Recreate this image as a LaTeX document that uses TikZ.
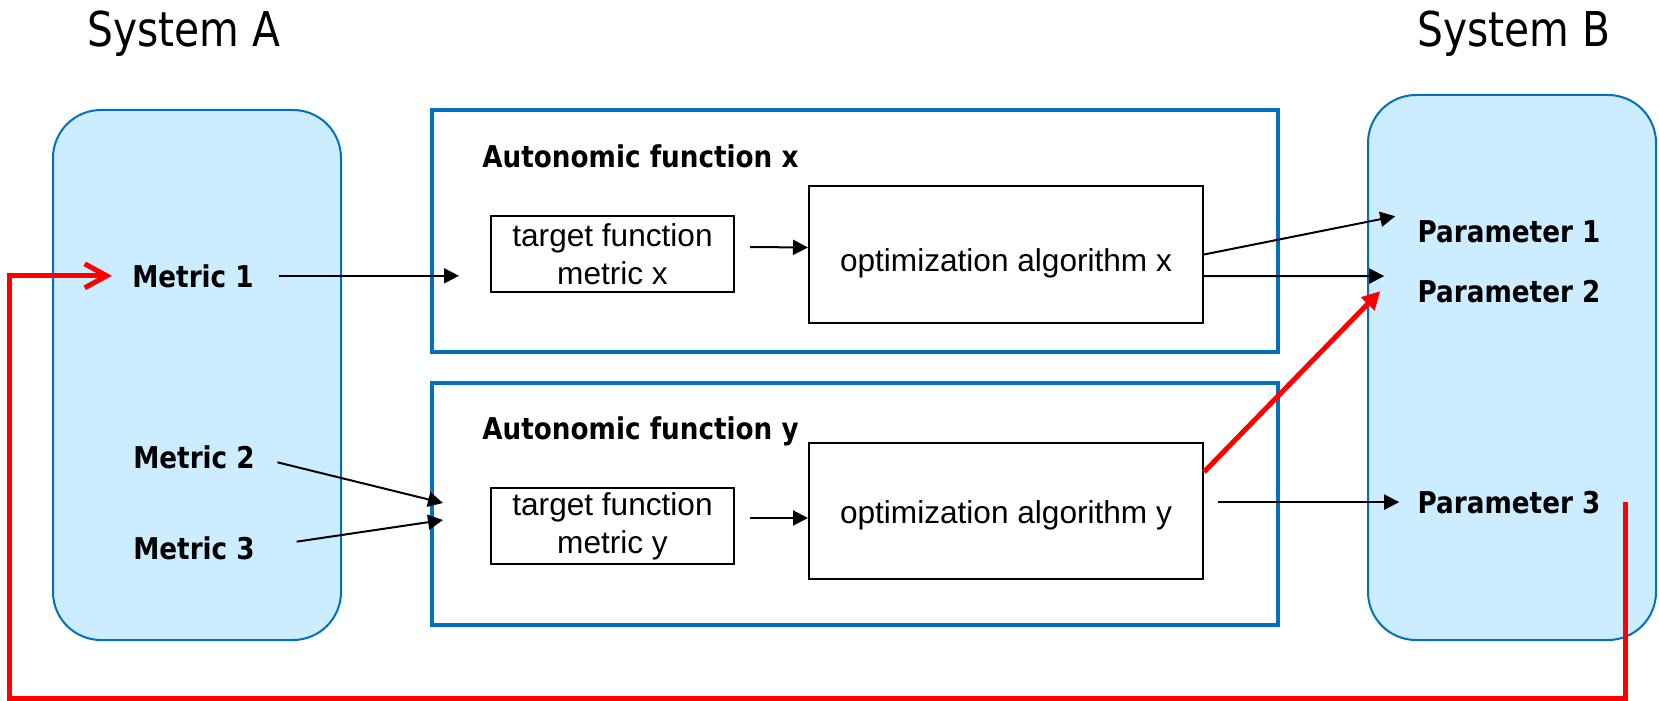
\documentclass[tikz,border=0pt]{standalone}
\usepackage{fontspec}
\setmainfont{Liberation Sans}
\newfontfamily\labelfont{DejaVu Sans}[FakeStretch=0.85]
\newfontfamily\itemfont{DejaVu Sans}[FakeStretch=0.875]
\usetikzlibrary{arrows.meta}
\definecolor{sysfill}{RGB}{204,236,255}
\definecolor{sysblue}{RGB}{0,112,192}
\tikzset{
x=0.5pt, y=-0.5pt, % one unit is one pixel of the original slide
sysbox/.style={draw=sysblue, line width=1pt, fill=sysfill, rounded corners=24pt, minimum width=144pt}, % the two systems
autobox/.style={draw=sysblue, line width=2pt, minimum width=423pt, minimum height=121pt}, % autonomic function frames
block/.style={draw, line width=1pt, inner sep=1pt, align=center, font=\fontsize{15.8}{19}\selectfont}, % inner boxes
item/.style={inner sep=0pt, font=\itemfont\bfseries\fontsize{15}{18}\selectfont}, % metrics, parameters
title/.style={anchor=base, font=\labelfont\fontsize{24}{28}\selectfont},
arr/.style={-{Triangle[length=7.5pt,width=7.5pt]}, line width=1pt},
feedback/.style={red, line width=2.5pt}, % red connectors
}

\begin{document}
\begin{tikzpicture}
\useasboundingbox (0,0) rectangle (1659,701);
% systems
\node[sysbox, minimum height=265pt] (sysA) at (197,375) {};
\node[sysbox, minimum height=272.5pt] (sysB) at (1512,367.5) {};
\node[title] (titleA) at (184,47) {System A};
\node[title] (titleB) at (1514,47) {System B};
\node[item, anchor=base] (m1) at (193,287) {Metric 1};
\node[item, anchor=base] (m2) at (194,468) {Metric 2};
\node[item, anchor=base] (m3) at (194,559) {Metric 3};
\node[item, anchor=base] (p1) at (1509,242) {Parameter 1};
\node[item, anchor=base] (p2) at (1509,302) {Parameter 2};
\node[item, anchor=base] (p3) at (1509,513) {Parameter 3};
% autonomic functions
\node[autobox] (afx) at (855,231) {};
\node[autobox] (afy) at (855,504) {};
\node[item, anchor=base west] (afxname) at (482,167) {Autonomic function x};
\node[item, anchor=base west] (afyname) at (482,439) {Autonomic function y};
\node[block, minimum width=121.5pt, minimum height=38pt] (tfx) at (612.5,254) {target function\\metric x};
\node[block, minimum width=121.5pt, minimum height=38pt] (tfy) at (612.5,526) {target function\\metric y};
\node[block, minimum width=197pt, minimum height=68.5pt, text height=20pt, text depth=3pt] (optx) at (1006,254.5) {optimization algorithm x};
\node[block, minimum width=197pt, minimum height=68pt, text height=15pt, text depth=3pt] (opty) at (1006,511) {optimization algorithm y};
\coordinate (loop) at (9,698);

\draw[arr, shorten <=12.5pt, shorten >=15.5pt] (m1.east) -- (m1.east -| tfx.west);
\draw[arr] ([xshift=7.5pt,yshift=3.5pt]tfx.east) -- ([yshift=3.5pt]optx.west);
\draw[arr, shorten <=11.5pt] (m2.east) -- ([xshift=-23.5pt,yshift=11.5pt]tfy.west);
\draw[arr, shorten <=21pt] (m3.east) -- ([xshift=-23.5pt,yshift=3pt]tfy.west);
\draw[arr] ([xshift=7.5pt,yshift=4pt]tfy.east) -- ([yshift=-3.5pt]opty.west);
\draw[arr] (optx.east) -- ([xshift=-11pt,yshift=7.5pt]p1.west);
\draw[arr] ([yshift=-10.75pt]optx.east) -- ([xshift=-16.5pt,yshift=7.5pt]p2.west);
\draw[arr, shorten <=7pt, shorten >=9pt] (opty.east |- p3.west) -- (p3.west);
\draw[feedback, -{Triangle[length=9pt,width=9pt]}] ([yshift=19.5pt]opty.east) -- ([xshift=-18.5pt]p2.west);
\draw[feedback, -{Straight Barb[length=11pt,width=12pt]}] ([xshift=12.5pt]p3.east) |- (loop) |- ([xshift=-10pt]m1.west);
\end{tikzpicture}
\end{document}
